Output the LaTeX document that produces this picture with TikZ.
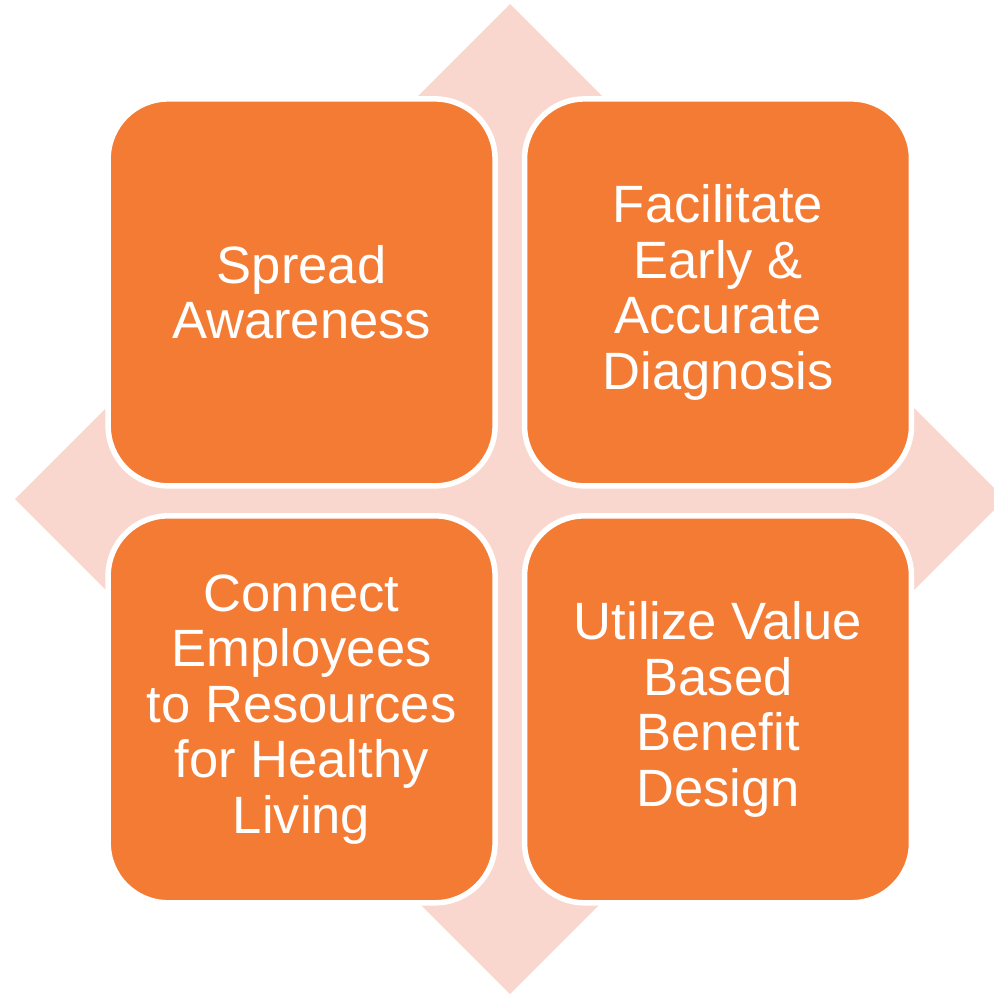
\documentclass[tikz,border=0pt]{standalone}
\usepackage{fontspec}
\setmainfont{Liberation Sans}
\usepackage{xcolor}
\usepackage{tikz}
\usetikzlibrary{positioning}
\definecolor{tileorange}{HTML}{F47B34}
\definecolor{backpink}{HTML}{FAD7CE}

\begin{document}
\begin{tikzpicture}[x=0.02cm,y=-0.02cm,
tile/.style={draw=white,line width=0.11cm,fill=tileorange,rounded corners=1.2cm,outer sep=0pt,
  minimum width=7.74cm,minimum height=7.74cm,align=center,text=white,
  font=\fontsize{29.9}{31.6}\selectfont},
backdrop/.style={fill=backpink}]
\useasboundingbox (0,0) rectangle (994,994);
\fill[backdrop] (510,4) -- (1005,499) -- (510,994) -- (15,499) -- cycle;
\node[tile](awareness) at (301.6,292.4){Spread\\Awareness};
\node[tile,right=0.59cm of awareness](diagnosis){Facilitate\\Early \&\\Accurate\\Diagnosis};
\node[tile,below=0.6cm of awareness](resources){Connect\\Employees\\to Resources\\for Healthy\\Living};
\node[tile,right=0.59cm of resources](benefit){Utilize Value\\Based\\Benefit\\Design};
\end{tikzpicture}
\end{document}
